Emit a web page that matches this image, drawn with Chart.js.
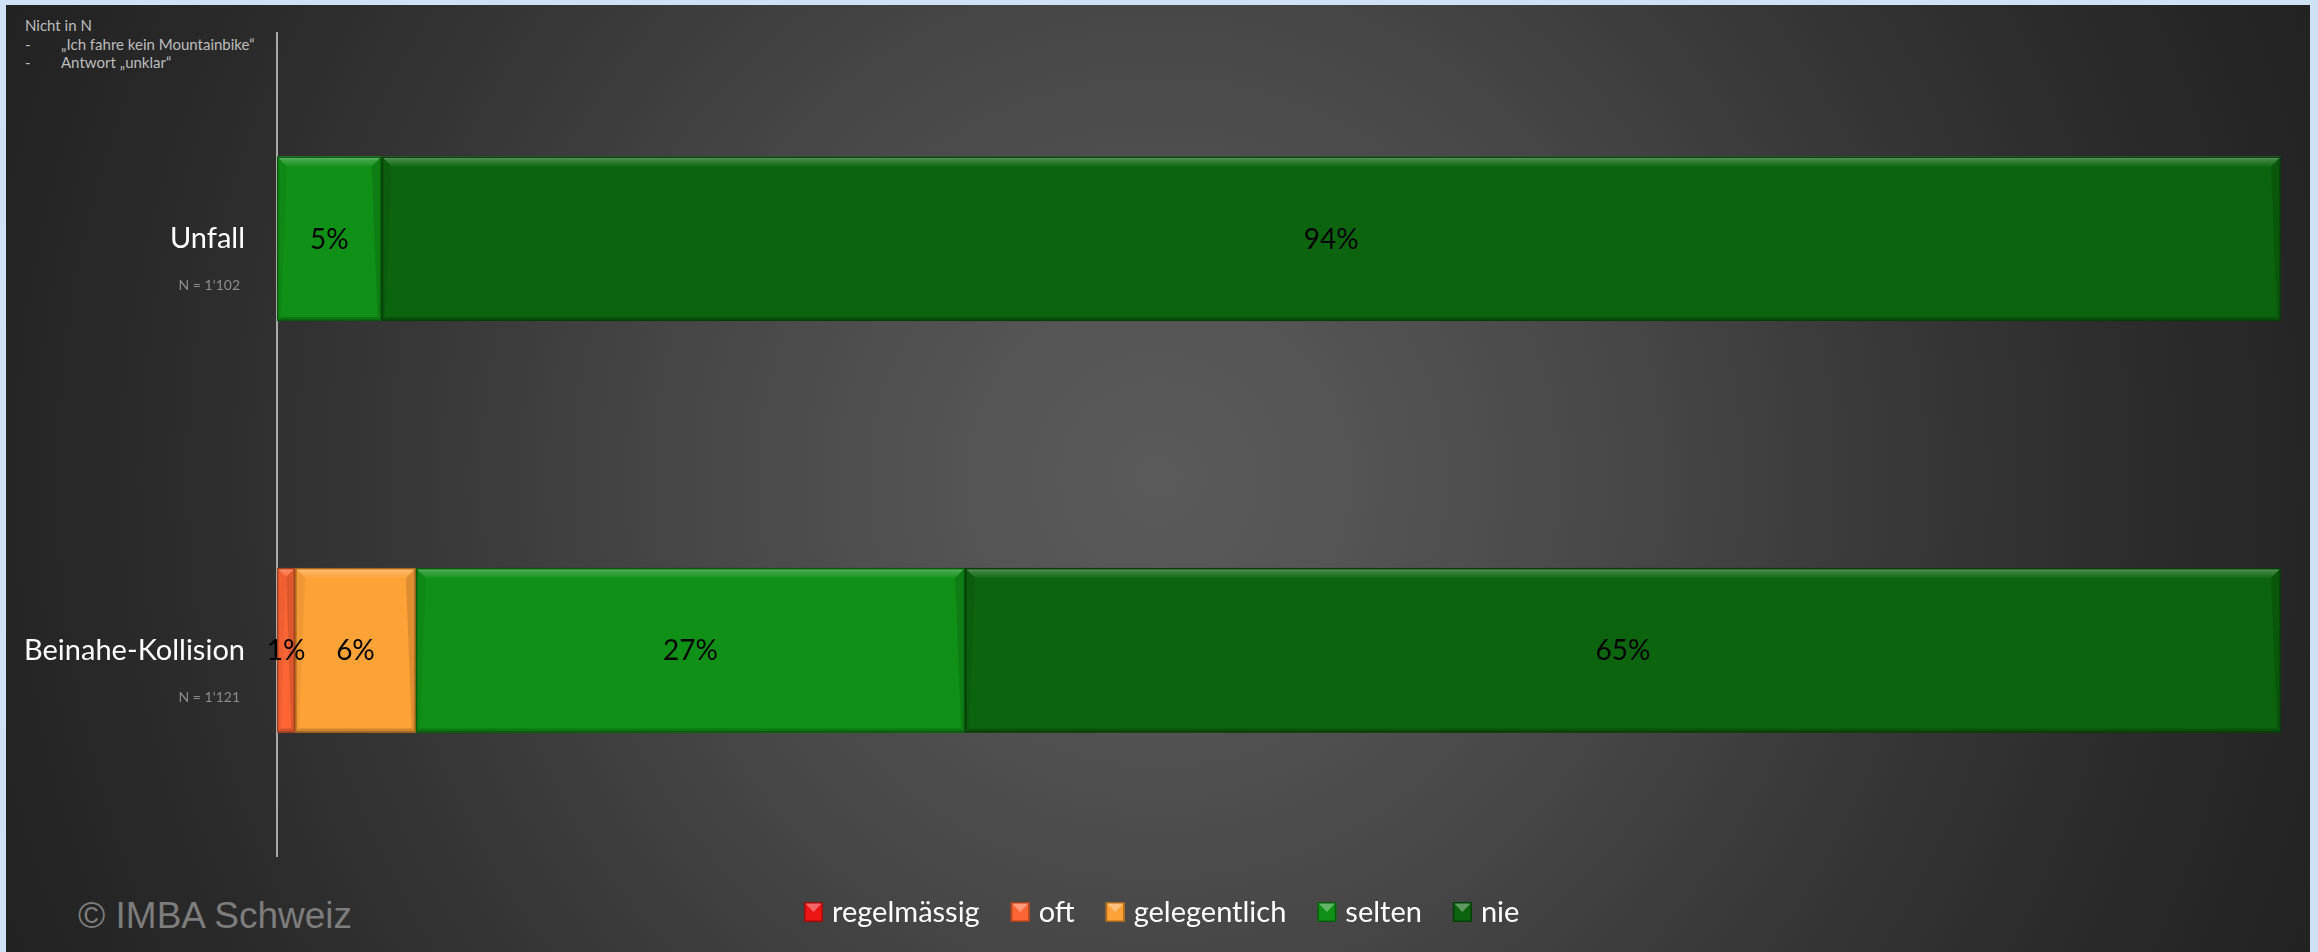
<!DOCTYPE html>
<html>
<head>
<meta charset="utf-8">
<script src="https://cdn.jsdelivr.net/npm/chart.js@4.4.1/dist/chart.umd.min.js"></script>
<style>
  html, body { margin: 0; padding: 0; width: 2318px; height: 952px; overflow: hidden; background: #cfe1f4; }
  #panel {
    position: absolute; left: 6px; top: 5px; width: 2304px; height: 947px;
    background: radial-gradient(circle farthest-corner at 50% 50%, #5a5a5a 0%, #555 14%, #474747 38%, #363636 62%, #2a2a2a 82%, #222 100%);
  }
  #chartWrap { position: absolute; left: 0; top: 0; width: 2318px; height: 952px; }
  .note { position: absolute; font-family: Lato, sans-serif; font-size: 15px; color: #bdbdbd; line-height: 18px; }
  #copy { position: absolute; left: 78px; top: 894px; font-family: "Liberation Sans", Arial, sans-serif; font-size: 37px; color: #7d7d7d; line-height: 44px; }
</style>
</head>
<body>
<div id="panel"></div>
<div class="note" style="left:25px; top:16px;">Nicht in N</div>
<div class="note" style="left:25px; top:35px;">-</div>
<div class="note" style="left:61px; top:35px;">„Ich fahre kein Mountainbike“</div>
<div class="note" style="left:25px; top:53px;">-</div>
<div class="note" style="left:61px; top:53px;">Antwort „unklar“</div>
<div id="copy">© IMBA Schweiz</div>
<div id="chartWrap"><canvas id="c" width="2318" height="952"></canvas></div>
<script>
// ---- data ----
const categories = ["Unfall", "Beinahe-Kollision"];
const sampleSizes = ["N = 1‘102", "N = 1‘121"];
const seriesNames = ["regelmässig", "oft", "gelegentlich", "selten", "nie"];
const regelmaessig = [0, 0];
const oft = [0, 0.9];
const gelegentlich = [0, 6.0];
const selten = [5.2, 27.3];
const nie = [94.4, 65.4];
const seriesColors = ["#ee1515", "#fd6535", "#fda237", "#109017", "#0c640e"];
const seriesBorders = ["#9c0c0c", "#a8401e", "#a8681d", "#0a5a0e", "#073d08"];

const seriesValues = [regelmaessig, oft, gelegentlich, selten, nie];
const totalMax = 99.6;

const FONT = "Lato, 'Open Sans', sans-serif";

function shade(ctx, l, t, r, b) {
  const w = r - l, h = b - t;
  if (w <= 0 || h <= 0) return;
  const bv = Math.min(10, w / 2, h / 2);
  ctx.save();
  let g = ctx.createLinearGradient(0, t, 0, t + bv);
  g.addColorStop(0, "rgba(255,255,255,0.42)");
  g.addColorStop(0.35, "rgba(255,255,255,0.2)");
  g.addColorStop(1, "rgba(255,255,255,0.03)");
  ctx.fillStyle = g;
  ctx.beginPath();
  ctx.moveTo(l, t); ctx.lineTo(r, t); ctx.lineTo(r - bv, t + bv); ctx.lineTo(l + bv, t + bv); ctx.closePath();
  ctx.fill();
  ctx.fillStyle = "rgba(0,0,0,0.12)";
  ctx.beginPath();
  ctx.moveTo(r, t); ctx.lineTo(r, b); ctx.lineTo(r - 4, b - 4); ctx.lineTo(r - bv, t + bv); ctx.closePath();
  ctx.fill();
  ctx.fillStyle = "rgba(0,0,0,0.05)";
  ctx.beginPath();
  ctx.moveTo(l, t); ctx.lineTo(l + bv, t + bv); ctx.lineTo(l + 4, b - 4); ctx.lineTo(l, b); ctx.closePath();
  ctx.fill();
  ctx.fillStyle = "rgba(0,0,0,0.18)";
  ctx.beginPath();
  ctx.moveTo(l, b); ctx.lineTo(r, b); ctx.lineTo(r - 4, b - 4); ctx.lineTo(l + 4, b - 4); ctx.closePath();
  ctx.fill();
  ctx.restore();
}

const decorPlugin = {
  id: "decor",
  afterDatasetsDraw(chart) {
    const ctx = chart.ctx;
    chart.data.datasets.forEach((ds, di) => {
      const meta = chart.getDatasetMeta(di);
      meta.data.forEach((bar, i) => {
        const v = ds.data[i];
        if (!v) return;
        const l = Math.min(bar.x, bar.base), r = Math.max(bar.x, bar.base);
        const t = bar.y - bar.height / 2, b = bar.y + bar.height / 2;
        shade(ctx, l, t, r, b);
        ctx.save();
        ctx.strokeStyle = seriesBorders[di];
        ctx.lineWidth = 1.5;
        ctx.strokeRect(l + 0.75, t + 0.75, r - l - 1.5, b - t - 1.5);
        ctx.restore();
      });
    });
    chart.data.datasets.forEach((ds, di) => {
      const meta = chart.getDatasetMeta(di);
      meta.data.forEach((bar, i) => {
        const v = ds.data[i];
        if (!v || Math.round(v) < 1) return;
        const cx = (bar.x + bar.base) / 2;
        ctx.save();
        ctx.font = "28px " + FONT;
        ctx.fillStyle = "#000";
        ctx.textAlign = "center";
        ctx.textBaseline = "middle";
        ctx.fillText(Math.round(v) + "%", cx, bar.y + 1);
        ctx.restore();
      });
    });
  },
  afterDraw(chart) {
    const ctx = chart.ctx;
    const ys = chart.scales.y;
    categories.forEach((cat, i) => {
      const y = ys.getPixelForValue(i);
      ctx.save();
      ctx.textAlign = "right";
      ctx.textBaseline = "middle";
      ctx.fillStyle = "#ffffff";
      ctx.font = "29px " + FONT;
      ctx.fillText(cat, 245, y);
      ctx.fillStyle = "#8c8c8c";
      ctx.font = "14px " + FONT;
      ctx.fillText(sampleSizes[i], 240, y + 47);
      ctx.restore();
    });
    // legend
    ctx.save();
    ctx.font = "29px " + FONT;
    ctx.textBaseline = "middle";
    ctx.textAlign = "left";
    let x = 804;
    const cy = 912;
    seriesNames.forEach((name, di) => {
      const bw = 19, bh = 20;
      const top = cy - bh / 2;
      ctx.fillStyle = seriesColors[di];
      ctx.fillRect(x, top, bw, bh);
      ctx.fillStyle = "rgba(255,255,255,0.35)";
      ctx.beginPath();
      ctx.moveTo(x + 1, top + 1); ctx.lineTo(x + bw - 1, top + 1); ctx.lineTo(x + bw / 2, top + 10); ctx.closePath();
      ctx.fill();
      ctx.strokeStyle = seriesBorders[di];
      ctx.lineWidth = 1.5;
      ctx.strokeRect(x + 0.75, top + 0.75, bw - 1.5, bh - 1.5);
      ctx.fillStyle = "#ffffff";
      ctx.fillText(name, x + bw + 9, cy + 1);
      x += bw + 9 + ctx.measureText(name).width + 31;
    });
    ctx.restore();
  }
};

const datasets = seriesNames.map((name, di) => ({
  label: name,
  data: seriesValues[di],
  backgroundColor: seriesColors[di],
  borderWidth: 0,
  barPercentage: 0.4,
  categoryPercentage: 1.0
}));

new Chart(document.getElementById("c"), {
  type: "bar",
  data: { labels: categories, datasets },
  options: {
    indexAxis: "y",
    responsive: false,
    animation: false,
    events: [],
    layout: { padding: { left: 277, right: 37, top: 33, bottom: 96 } },
    plugins: { legend: { display: false }, tooltip: { enabled: false } },
    scales: {
      x: { stacked: true, min: 0, max: totalMax, display: false },
      y: {
        stacked: true,
        grid: { display: false },
        ticks: { display: false },
        border: { display: true, color: "#a9a9a9", width: 2 },
        afterFit(scale) { scale.width = 0; }
      }
    }
  },
  plugins: [decorPlugin]
});
</script>
</body>
</html>
